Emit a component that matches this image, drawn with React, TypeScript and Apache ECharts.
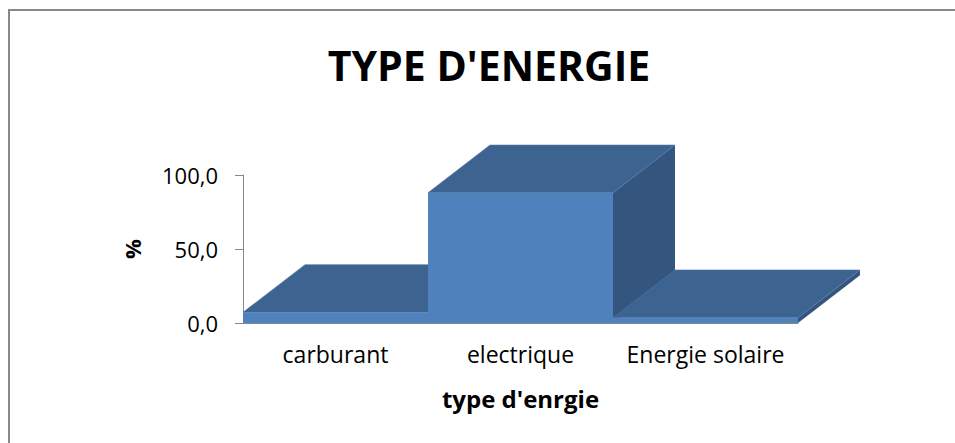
import React, { useEffect, useRef } from "react";
import * as echarts from "echarts";

const categories = ["carburant", "electrique", "Energie solaire"];
const values = [7.2, 88.0, 3.6];
const yTicks = { min: 0, max: 100, interval: 50 };
const titleText = "TYPE D'ENERGIE";
const xName = "type d'enrgie";
const yName = "%";

const FRONT = "#4F81BD";
const TOP = "#3D6390";
const SIDE = "#34557D";
const FONT = "Open Sans";

export default function App() {
  const ref = useRef<HTMLDivElement>(null);
  useEffect(() => {
    if (!ref.current) return;
    const chart = echarts.init(ref.current, null, { renderer: "svg" });
    const dx = 62;
    const dy = -47.7;
    chart.setOption({
      animation: false,
      backgroundColor: "#ffffff",
      title: {
        text: titleText,
        left: 484,
        top: 60,
        textAlign: "center",
        textVerticalAlign: "middle",
        textStyle: { fontFamily: FONT, fontWeight: "bold", fontSize: 41, color: "#000" },
      },
      graphic: [
        {
          type: "line",
          shape: { x1: 9, y1: 9, x2: 9, y2: 460 },
          style: { stroke: "#888888", lineWidth: 2 },
          silent: true,
        },
        {
          type: "line",
          shape: { x1: 8, y1: 10, x2: 955, y2: 10 },
          style: { stroke: "#888888", lineWidth: 2 },
          silent: true,
        },
      ],
      grid: { left: 243, top: 175, width: 555, height: 148 },
      xAxis: {
        type: "category",
        data: categories,
        name: xName,
        nameLocation: "middle",
        nameGap: 63,
        nameTextStyle: { fontFamily: FONT, fontWeight: "bold", fontSize: 24, color: "#000" },
        axisLine: { show: true, lineStyle: { color: "#888888", width: 1 } },
        axisTick: { show: false },
        axisLabel: { fontFamily: FONT, fontSize: 23, color: "#000", margin: 19, interval: 0 },
      },
      yAxis: {
        type: "value",
        min: yTicks.min,
        max: yTicks.max,
        interval: yTicks.interval,
        name: yName,
        nameLocation: "middle",
        nameRotate: 90,
        nameGap: 100,
        nameTextStyle: { fontFamily: FONT, fontWeight: "bold", fontSize: 22, color: "#000" },
        axisLine: { show: true, lineStyle: { color: "#888888", width: 1 } },
        axisTick: { show: true, length: 8, lineStyle: { color: "#888888" } },
        splitLine: { show: false },
        axisLabel: {
          fontFamily: FONT,
          fontSize: 22,
          color: "#000",
          margin: 25,
          formatter: (v: number) => v.toFixed(1).replace(".", ","),
        },
      },
      series: [
        {
          type: "custom",
          data: values.map((v, i) => [i, v]),
          encode: { x: 0, y: 1 },
          renderItem: (params: any, api: any) => {
            const idx = api.value(0);
            const val = api.value(1);
            const top = api.coord([idx, val]);
            const base = api.coord([idx, 0]);
            const w = api.size([1, 0])[0];
            const x0 = top[0] - w / 2;
            const x1 = top[0] + w / 2;
            const yT = top[1];
            const yB = base[1];
            return {
              type: "group",
              children: [
                {
                  type: "polygon",
                  shape: { points: [[x1, yB], [x1 + dx, yB + dy], [x1 + dx, yT + dy], [x1, yT]] },
                  style: { fill: SIDE },
                },
                {
                  type: "polygon",
                  shape: { points: [[x0, yT], [x0 + dx, yT + dy], [x1 + dx, yT + dy], [x1, yT]] },
                  style: { fill: TOP, stroke: "#5277a3", lineWidth: 0.6 },
                },
                {
                  type: "rect",
                  shape: { x: x0, y: yT, width: w, height: yB - yT },
                  style: { fill: FRONT },
                },
              ],
            };
          },
        },
      ],
    });
    return () => chart.dispose();
  }, []);
  return (
    <div
      ref={ref}
      style={{ position: "fixed", left: 0, top: 0, width: 955, height: 443 }}
    />
  );
}
